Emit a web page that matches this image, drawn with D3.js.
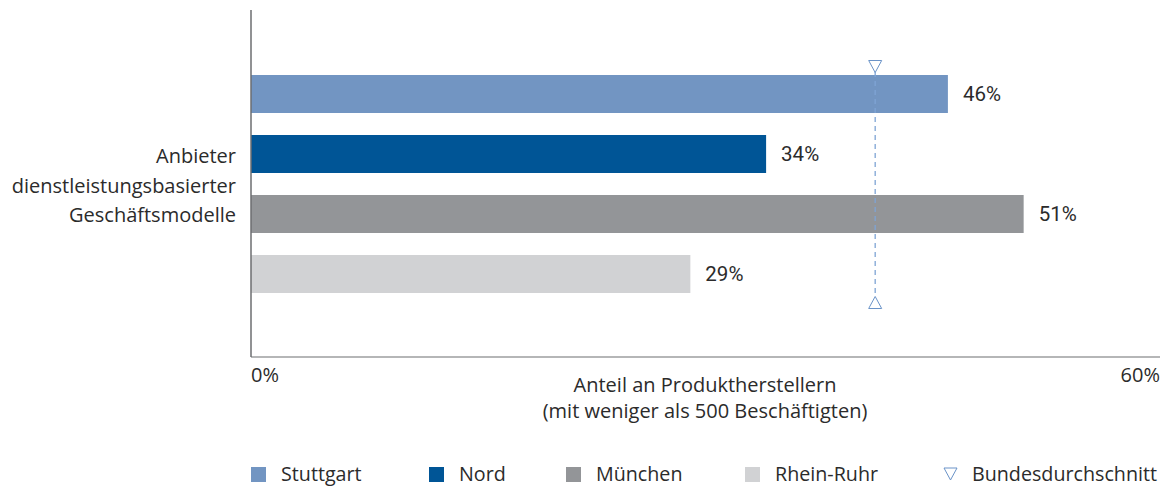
<!DOCTYPE html>
<html>
<head>
<meta charset="utf-8">
<script src="https://cdn.jsdelivr.net/npm/d3@7"></script>
<style>
  body { margin: 0; background: #fff; }
  svg text { font-family: "Open Sans", "Noto Sans", sans-serif; fill: #2b2b2b; }
</style>
</head>
<body>
<div id="chart"></div>
<script>
// data
var regions = ['Stuttgart', 'Nord', 'München', 'Rhein-Ruhr'];
var values = [46, 34, 51, 29];
var colors = ['#7295c2', '#005596', '#939598', '#d1d2d4'];
var average = 41.2;
var averageLabel = 'Bundesdurchschnitt';
var categoryLabel = ['Anbieter', 'dienstleistungsbasierter', 'Geschäftsmodelle'];
var axisTitle = ['Anteil an Produktherstellern', '(mit weniger als 500 Beschäftigten)'];
var tickLabels = ['0%', '60%'];
var domainMax = 60;

var width = 1161, height = 486;

var svg = d3.select('#chart').append('svg')
	.attr('width', width)
	.attr('height', height);

var x = d3.scaleLinear().domain([0, domainMax]).range([251, 1160]);
var y = d3.scaleBand().domain(regions).range([64, 304])
	.paddingInner(0.3667).paddingOuter(0.1833);

// bars
svg.selectAll('rect.bar')
	.data(regions)
	.enter().append('rect')
		.attr('class', 'bar')
		.attr('x', x(0))
		.attr('y', function (d) { return y(d); })
		.attr('width', function (d, i) { return x(values[i]) - x(0); })
		.attr('height', y.bandwidth())
		.attr('fill', function (d, i) { return colors[i]; });

// value labels
svg.selectAll('text.val')
	.data(regions)
	.enter().append('text')
		.attr('class', 'val')
		.attr('x', function (d, i) { return x(values[i]) + 15; })
		.attr('y', function (d) { return y(d) + y.bandwidth() / 2; })
		.attr('dy', '0.35em')
		.style('font-family', 'Roboto, "Liberation Sans", sans-serif')
		.style('font-size', '20.5px')
		.text(function (d, i) { return values[i] + '%'; });

// average line + markers
var ax = x(average);
svg.append('line')
	.attr('x1', ax).attr('x2', ax)
	.attr('y1', 72).attr('y2', 297)
	.attr('stroke', '#7fa4d4')
	.attr('stroke-width', 1.3)
	.attr('stroke-dasharray', '5,4');

svg.append('path')
	.attr('d', 'M' + (ax - 6.5) + ',60.5 L' + (ax + 6.5) + ',60.5 L' + ax + ',72.5 Z')
	.attr('fill', '#fff').attr('stroke', '#6a93c8').attr('stroke-width', 1);
svg.append('path')
	.attr('d', 'M' + (ax - 6.5) + ',308.5 L' + (ax + 6.5) + ',308.5 L' + ax + ',296.5 Z')
	.attr('fill', '#fff').attr('stroke', '#6a93c8').attr('stroke-width', 1);

// axes
svg.append('line')
	.attr('x1', x(0)).attr('x2', x(0))
	.attr('y1', 10).attr('y2', 357)
	.attr('stroke', '#6d6e71').attr('stroke-width', 1.5);
svg.append('line')
	.attr('x1', x(0)).attr('x2', x(domainMax))
	.attr('y1', 357).attr('y2', 357)
	.attr('stroke', '#6d6e71').attr('stroke-width', 1.2);

svg.append('text')
	.attr('x', x(0)).attr('y', 375).attr('dy', '0.35em')
	.style('font-size', '20px')
	.text(tickLabels[0]);
svg.append('text')
	.attr('x', x(domainMax)).attr('y', 375).attr('dy', '0.35em')
	.attr('text-anchor', 'end')
	.style('font-size', '20px')
	.text(tickLabels[1]);

svg.selectAll('text.title')
	.data(axisTitle)
	.enter().append('text')
		.attr('class', 'title')
		.attr('x', 705)
		.attr('y', function (d, i) { return 385 + i * 26; })
		.attr('dy', '0.35em')
		.attr('text-anchor', 'middle')
		.style('font-size', '20px')
		.text(function (d) { return d; });

// category label
svg.selectAll('text.cat')
	.data(categoryLabel)
	.enter().append('text')
		.attr('class', 'cat')
		.attr('x', 236)
		.attr('y', function (d, i) { return 156 + i * 29.5; })
		.attr('dy', '0.35em')
		.attr('text-anchor', 'end')
		.style('font-size', '20px')
		.text(function (d) { return d; });

// legend
var legendX = [251, 429, 566, 745];
var lg = svg.selectAll('g.legend')
	.data(regions)
	.enter().append('g')
		.attr('class', 'legend')
		.attr('transform', function (d, i) { return 'translate(' + legendX[i] + ',474)'; });
lg.append('rect')
	.attr('x', 0).attr('y', -7)
	.attr('width', 15).attr('height', 15)
	.attr('fill', function (d, i) { return colors[i]; });
lg.append('text')
	.attr('x', 30).attr('dy', '0.35em')
	.style('font-size', '19.7px')
	.text(function (d) { return d; });

var la = svg.append('g').attr('transform', 'translate(944,474)');
la.append('path')
	.attr('d', 'M0,-6 L13,-6 L6.5,6 Z')
	.attr('fill', '#fff').attr('stroke', '#6a93c8').attr('stroke-width', 1);
la.append('text')
	.attr('x', 28).attr('dy', '0.35em')
	.style('font-size', '19.7px')
	.text(averageLabel);
</script>
</body>
</html>
